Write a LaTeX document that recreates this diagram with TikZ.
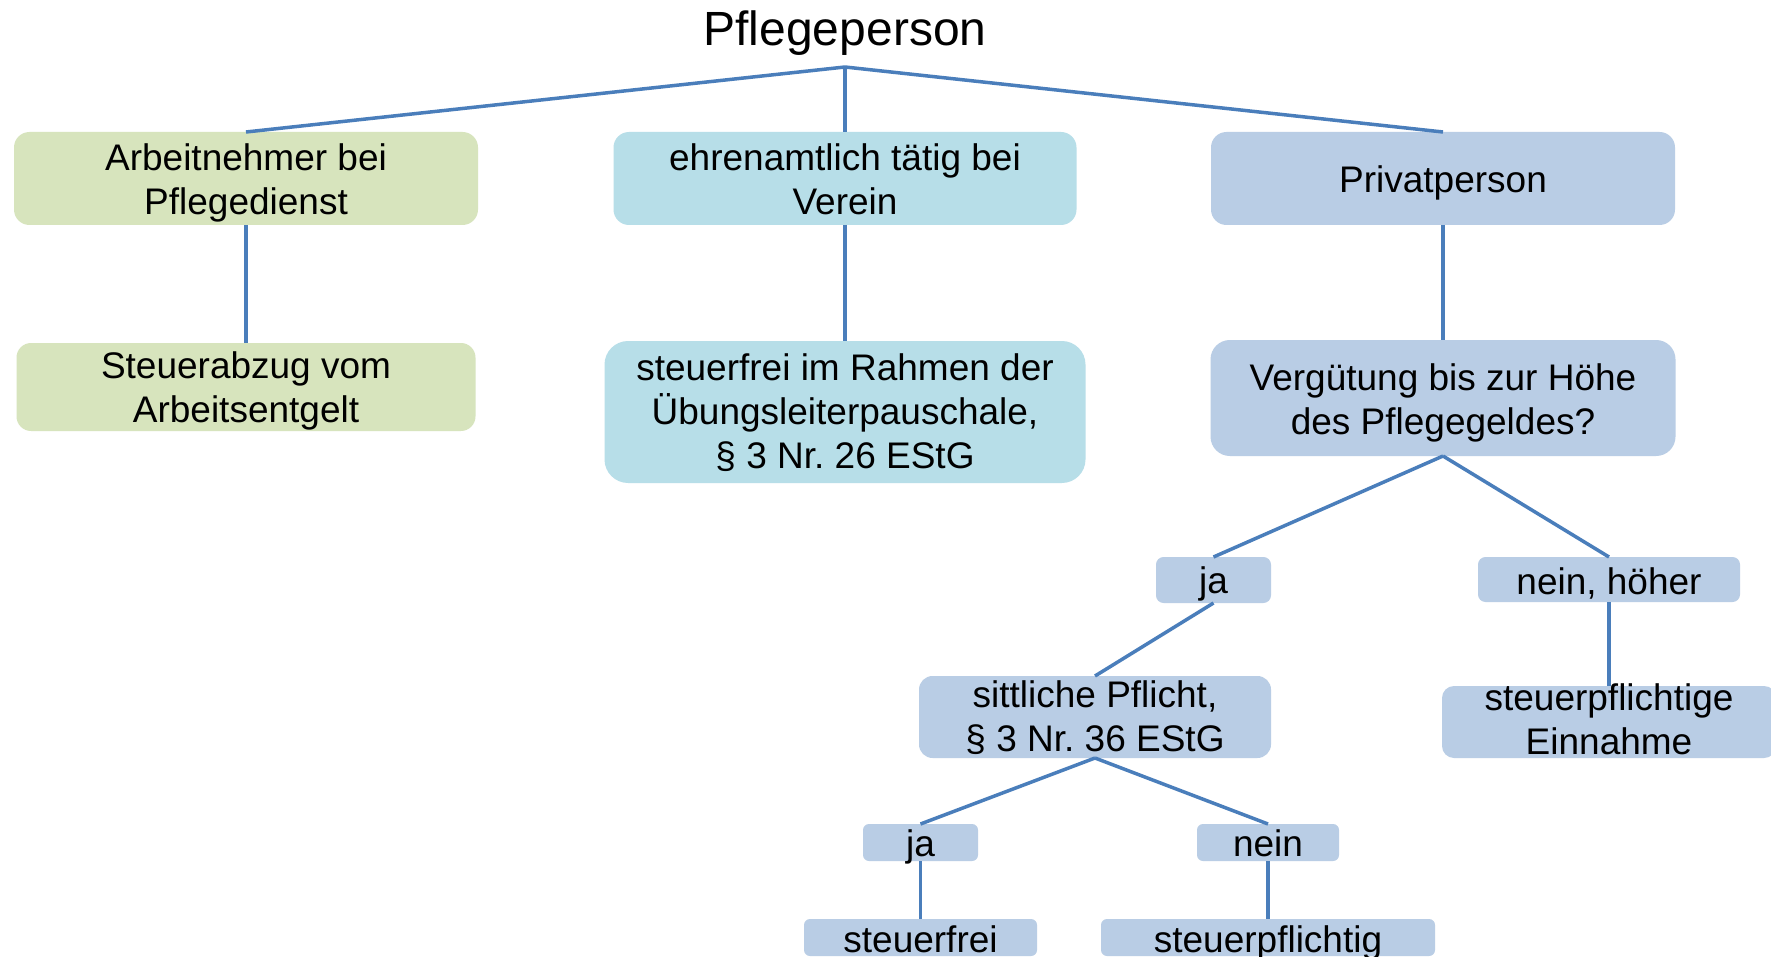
\documentclass[tikz,border=0pt]{standalone}
\usepackage{fontspec}
\setmainfont{Liberation Sans}
\definecolor{gbox}{HTML}{D7E4BD}
\definecolor{lbox}{HTML}{B7DEE8}
\definecolor{bbox}{HTML}{B9CDE5}
\definecolor{linec}{HTML}{4A7EBB}
\newcommand{\tstrut}{\rule[-5pt]{0pt}{22pt}}
\frenchspacing
\begin{document}
\begin{tikzpicture}[x=0.5pt,y=-0.5pt,
  box/.style={rectangle,inner sep=0pt,outer sep=0pt,draw=none},
  conn/.style={draw=linec,line width=1.75pt},
  txt/.style={font=\fontsize{18.5pt}{22pt}\selectfont,align=center,inner sep=0pt}]
\useasboundingbox (0,0) rectangle (1771,957);
\clip (0,0) rectangle (1771,957);
\fill[white] (0,0) rectangle (1771,957);
% boxes
\node[box,fill=gbox,rounded corners=7.75pt,minimum width=232pt,minimum height=46.5pt] (b1) at (246,178.5) {};
\node[box,fill=lbox,rounded corners=7.75pt,minimum width=231.5pt,minimum height=46.5pt] (b2) at (845,178.5) {};
\node[box,fill=bbox,rounded corners=7.75pt,minimum width=232pt,minimum height=46.5pt] (b3) at (1443,178.5) {};
\node[box,fill=gbox,rounded corners=7.3pt,minimum width=229.5pt,minimum height=44pt] (b1b) at (246,387) {};
\node[box,fill=lbox,rounded corners=11.8pt,minimum width=240.5pt,minimum height=71pt] (b2b) at (845,412) {};
\node[box,fill=bbox,rounded corners=9.7pt,minimum width=232.5pt,minimum height=58pt] (b3b) at (1443,398) {};
\node[box,fill=bbox,rounded corners=3.8pt,minimum width=57.5pt,minimum height=23pt] (ja1) at (1213.5,580) {};
\node[box,fill=bbox,rounded corners=3.75pt,minimum width=131pt,minimum height=22.5pt] (nh) at (1609,579.5) {};
\node[box,fill=bbox,rounded corners=6.8pt,minimum width=176pt,minimum height=41pt] (sp) at (1095,717) {};
\node[box,fill=bbox,rounded corners=6pt,minimum width=167pt,minimum height=36pt] (se) at (1609,722) {};
\node[box,fill=bbox,rounded corners=3pt,minimum width=57.5pt,minimum height=18.5pt] (ja2) at (920.5,842.5) {};
\node[box,fill=bbox,rounded corners=3pt,minimum width=71pt,minimum height=18.5pt] (ne2) at (1268,842.5) {};
\node[box,fill=bbox,rounded corners=3pt,minimum width=116.5pt,minimum height=18.5pt] (sf) at (920.5,937.5) {};
\node[box,fill=bbox,rounded corners=3pt,minimum width=167pt,minimum height=18.5pt] (spf) at (1268,937.5) {};
% connectors
\coordinate (J) at (845,67);
\draw[conn] (J) -- (b1.north);
\draw[conn] (J) -- (b2.north);
\draw[conn] (J) -- (b3.north);
\draw[conn] (b1.south) -- (b1b.north);
\draw[conn] (b2.south) -- (b2b.north);
\draw[conn] (b3.south) -- (b3b.north);
\draw[conn] (b3b.south) -- (ja1.north);
\draw[conn] (b3b.south) -- (nh.north);
\draw[conn] (ja1.south) -- (sp.north);
\draw[conn] (nh.south) -- (se.north);
\draw[conn] (sp.south) -- (ja2.north);
\draw[conn] (sp.south) -- (ne2.north);
\draw[conn] (ja2.south) -- (sf.north);
\draw[conn] (ne2.south) -- (spf.north);
% texts
\node[font=\fontsize{24pt}{28pt}\selectfont,inner sep=0pt,anchor=base] (title) at (845,46) {Pflegeperson};
\node[txt] (t1) at (246,180.5) {\tstrut Arbeitnehmer bei\\\tstrut Pflegedienst};
\node[txt] (t2) at (845,180.5) {\tstrut ehrenamtlich tätig bei\\\tstrut Verein};
\node[txt,anchor=base] (t3) at (1443,193) {Privatperson};
\node[txt] (t1b) at (246,388) {\tstrut Steuerabzug vom\\\tstrut Arbeitsentgelt};
\node[txt] (t2b) at (845,412) {\tstrut steuerfrei im Rahmen der\\\tstrut Übungsleiterpauschale,\\\tstrut § 3 Nr. 26 EStG};
\node[txt] (t3b) at (1443,400) {\tstrut Vergütung bis zur Höhe\\\tstrut des Pflegegeldes?};
\node[txt,anchor=base] (tja1) at (1213.5,593) {ja};
\node[txt,anchor=base] (tnh) at (1609,594) {nein, höher};
\node[txt] (tsp) at (1095,717) {\tstrut sittliche Pflicht,\\\tstrut § 3 Nr. 36 EStG};
\node[txt] (tse) at (1609,720) {\tstrut steuerpflichtige\\\tstrut Einnahme};
\node[txt,anchor=base] (tja2) at (920.5,856) {ja};
\node[txt,anchor=base] (tne2) at (1268,856) {nein};
\node[txt,anchor=base] (tsf) at (920.5,952) {steuerfrei};
\node[txt,anchor=base] (tspf) at (1268,952) {steuerpflichtig};
\end{tikzpicture}
\end{document}
